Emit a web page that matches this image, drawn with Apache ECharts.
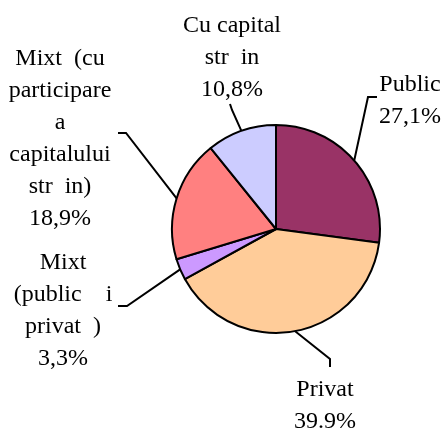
<!DOCTYPE html>
<html>
<head>
<meta charset="utf-8">
<script src="https://cdn.jsdelivr.net/npm/echarts@6/dist/echarts.min.js"></script>
<style>
  html, body { margin: 0; padding: 0; background: #fff; }
  #chart { width: 448px; height: 430px; }
</style>
</head>
<body>
<div id="chart"></div>
<script>
// date
var categories = ['Public', 'Privat', 'Mixt (public i privat)', 'Mixt (cu participare a capitalului str in)', 'Cu capital str in'];
var values = [27.1, 39.9, 3.3, 18.9, 10.8];
var labelTexts = [
  'Public\n27,1%',
  'Privat\n39.9%',
  'Mixt\n(public    i\nprivat  )\n3,3%',
  'Mixt  (cu\nparticipare\na\ncapitalului\nstr  in)\n18,9%',
  'Cu capital\nstr  in\n10,8%'
];
var colors = ['#993366', '#FFCC99', '#CC99FF', '#FF8080', '#CCCCFF'];

// pozitii etichete + linii
var labelPos = [
  { x: 410, y: 101, bend: [[368, 97], [377, 97]] },
  { x: 325, y: 406, bend: [[330, 359], [330, 367]] },
  { x: 63, y: 311, bend: [[127, 306], [118, 306]] },
  { x: 60, y: 139, bend: [[126, 133], [118, 133]] },
  { x: 232, y: 58, bend: [[232, 110], [230, 104]] }
];

var chart = echarts.init(document.getElementById('chart'));
var pieData = categories.map(function (c, i) {
  return { name: c, value: values[i], itemStyle: { color: colors[i] } };
});

var option = {
  backgroundColor: '#fff',
  animation: false,
  series: [{
    type: 'pie',
    center: [276, 229],
    radius: 104,
    startAngle: 90,
    clockwise: true,
    data: pieData,
    itemStyle: {
      borderColor: '#000',
      borderWidth: 2
    },
    label: {
      show: true,
      position: 'outside',
      formatter: function (p) { return labelTexts[p.dataIndex]; },
      fontFamily: 'Liberation Serif',
      fontSize: 24,
      lineHeight: 32,
      color: '#000',
      align: 'center',
      overflow: 'none'
    },
    labelLine: {
      show: true,
      lineStyle: { color: '#000', width: 2 }
    },
    labelLayout: function (params) {
      var lp = labelPos[params.dataIndex];
      var start = params.labelLinePoints ? params.labelLinePoints[0] : lp.bend[0];
      return {
        x: lp.x,
        y: lp.y,
        align: 'center',
        verticalAlign: 'middle',
        labelLinePoints: [start, lp.bend[0], lp.bend[1]]
      };
    },
    emphasis: { disabled: true }
  }]
};
chart.setOption(option);
</script>
</body>
</html>
